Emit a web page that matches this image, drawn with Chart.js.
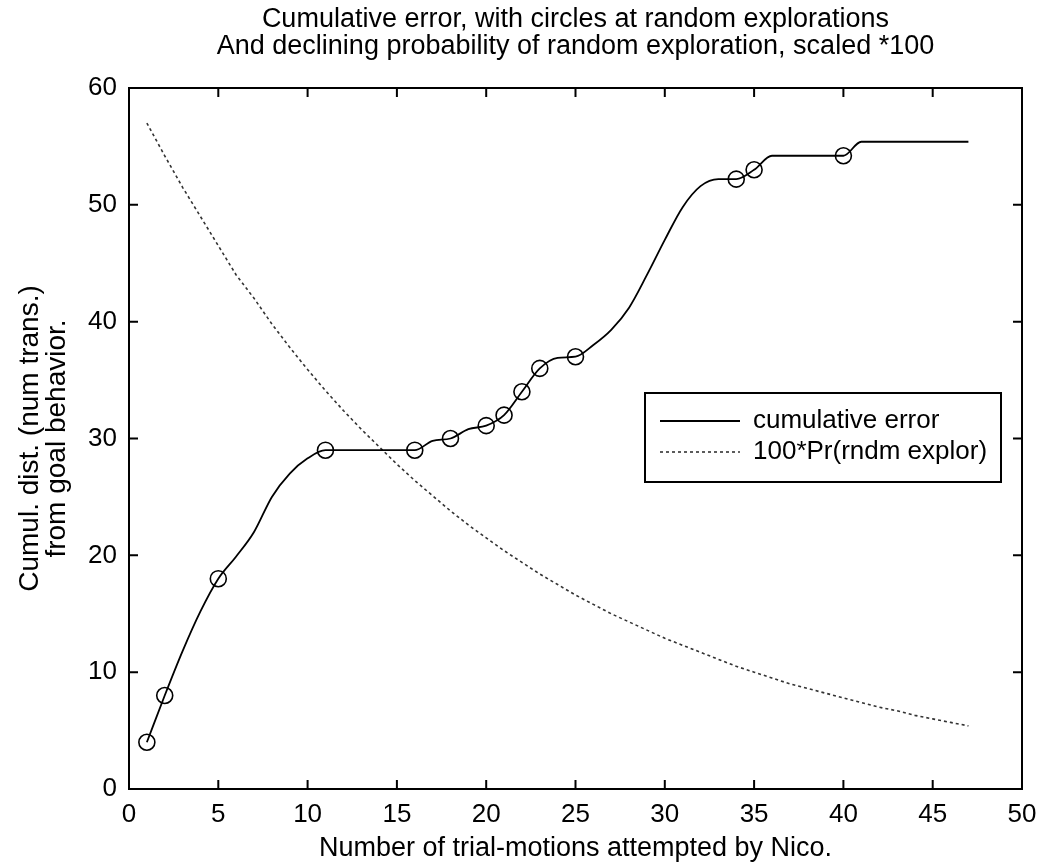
<!DOCTYPE html>
<html lang="en">
<head>
  <meta charset="UTF-8" />
  <title>Cumulative error with random explorations</title>
  <script src="https://cdn.jsdelivr.net/npm/chart.js"></script>
  <style>
    body {
      margin: 0;
      background: #ffffff;
    }
    .chart-box {
      width: 1039px;
      height: 863px;
    }
  </style>
</head>
<body>
  <div class="chart-box">
    <canvas id="errChart"></canvas>
  </div>

  <script>
    const trials = [1, 2, 3, 4, 5, 6, 7, 8, 9, 10, 11, 12, 13, 14, 15, 16, 17, 18, 19, 20,
      21, 22, 23, 24, 25, 26, 27, 28, 29, 30, 31, 32, 33, 34, 35, 36, 37, 38, 39, 40,
      41, 42, 43, 44, 45, 46, 47];
    const cumError = [4, 8, 11.8, 15.2, 18, 19.9, 22, 25, 27, 28.3, 29, 29, 29, 29, 29, 29, 29.8, 30, 30.8, 31.1,
      32, 34, 36, 36.9, 37, 38, 39.3, 41.2, 44, 47, 49.8, 51.6, 52.2, 52.2, 53, 54.2, 54.2, 54.2, 54.2, 54.2,
      55.4, 55.4, 55.4, 55.4, 55.4, 55.4, 55.4];
    const explorePr = [57, 54.2, 51.5, 49, 46.5, 44, 42, 39.8, 37.8, 35.9, 34.1, 32.4, 30.8, 29.3, 27.8, 26.4, 25.1, 23.8, 22.6, 21.5,
      20.4, 19.4, 18.4, 17.5, 16.6, 15.8, 15, 14.3, 13.6, 12.9, 12.3, 11.7, 11.1, 10.5, 10, 9.5, 9, 8.6, 8.2, 7.8,
      7.4, 7, 6.7, 6.3, 6, 5.7, 5.4];
    const explorations = [1, 2, 5, 11, 16, 18, 20, 21, 22, 23, 25, 34, 35, 40];
    const xTicks = [0, 5, 10, 15, 20, 25, 30, 35, 40, 45, 50];
    const yTicks = [0, 10, 20, 30, 40, 50, 60];
    const legendLabels = ["cumulative error", "100*Pr(rndm explor)"];

    const FONT = "'Liberation Sans', Arial, Helvetica, sans-serif";

    // matlab style box: frame, inward ticks on all four sides, legend inside the axes
    const matlabBox = {
      id: "matlabBox",
      afterDraw(chart) {
        const { ctx, chartArea: a, scales: { x, y } } = chart;
        ctx.save();
        ctx.strokeStyle = "#000";
        ctx.lineWidth = 2;
        ctx.strokeRect(a.left, a.top, a.right - a.left, a.bottom - a.top);

        ctx.beginPath();
        xTicks.forEach(v => {
          const px = x.getPixelForValue(v);
          ctx.moveTo(px, a.bottom); ctx.lineTo(px, a.bottom - 9);
          ctx.moveTo(px, a.top); ctx.lineTo(px, a.top + 9);
        });
        yTicks.forEach(v => {
          const py = y.getPixelForValue(v);
          ctx.moveTo(a.left, py); ctx.lineTo(a.left + 9, py);
          ctx.moveTo(a.right, py); ctx.lineTo(a.right - 9, py);
        });
        ctx.stroke();

        // legend
        const bx = a.right - 377, by = a.top + 305, bw = 356, bh = 89;
        ctx.fillStyle = "#fff";
        ctx.fillRect(bx, by, bw, bh);
        ctx.lineWidth = 2;
        ctx.strokeRect(bx, by, bw, bh);

        ctx.font = "26px " + FONT;
        ctx.textBaseline = "middle";
        ctx.fillStyle = "#000";
        const rows = [by + 28, by + 59];
        chart.data.datasets.forEach((ds, i) => {
          ctx.beginPath();
          ctx.strokeStyle = ds.borderColor;
          ctx.lineWidth = ds.borderWidth;
          ctx.setLineDash(ds.borderDash || []);
          ctx.moveTo(bx + 15, rows[i]);
          ctx.lineTo(bx + 95, rows[i]);
          ctx.stroke();
          ctx.setLineDash([]);
          ctx.fillText(legendLabels[i], bx + 108, rows[i]);
        });
        ctx.restore();
      }
    };

    new Chart(document.getElementById("errChart"), {
      type: "line",
      data: {
        datasets: [
          {
            label: legendLabels[0],
            data: trials.map((t, i) => ({ x: t, y: cumError[i] })),
            borderColor: "#000",
            borderWidth: 1.8,
            cubicInterpolationMode: "monotone",
            pointRadius: trials.map(t => explorations.includes(t) ? 8 : 0),
            pointBorderColor: "#000",
            pointBackgroundColor: "rgba(0,0,0,0)",
            pointBorderWidth: 1.6,
            pointHoverRadius: 0
          },
          {
            label: legendLabels[1],
            data: trials.map((t, i) => ({ x: t, y: explorePr[i] })),
            borderColor: "#333",
            borderWidth: 1.6,
            borderDash: [3, 3],
            pointRadius: 0,
            tension: 0
          }
        ]
      },
      options: {
        responsive: true,
        maintainAspectRatio: false,
        animation: false,
        devicePixelRatio: 1,
        layout: { padding: { left: 0, right: 17, top: 0, bottom: 0 } },
        plugins: {
          legend: { display: false },
          tooltip: { enabled: false },
          title: {
            display: true,
            fullSize: false,
            text: ["Cumulative error, with circles at random explorations",
                   "And declining probability of random exploration, scaled *100"],
            color: "#000",
            font: { family: FONT, size: 27, weight: "normal", lineHeight: 1.0 },
            padding: { top: 6.5, bottom: 27.5 }
          }
        },
        scales: {
          x: {
            type: "linear",
            min: 0,
            max: 50,
            afterFit: s => { s.height = 74; s.paddingLeft = 0; s.paddingRight = 0; },
            afterBuildTicks: s => { s.ticks = xTicks.map(v => ({ value: v })); },
            grid: { display: false, drawTicks: false },
            border: { display: false },
            ticks: {
              color: "#000",
              padding: 10,
              maxRotation: 0,
              font: { family: FONT, size: 26 }
            },
            title: {
              display: true,
              text: "Number of trial-motions attempted by Nico.",
              color: "#000",
              font: { family: FONT, size: 27, lineHeight: 1.05 },
              padding: { top: 0, bottom: 0 }
            }
          },
          y: {
            min: 0,
            max: 60,
            afterFit: s => { s.width = 129; },
            afterBuildTicks: s => { s.ticks = yTicks.map(v => ({ value: v })); },
            grid: { display: false, drawTicks: false },
            border: { display: false },
            ticks: {
              color: "#000",
              padding: 12,
              font: { family: FONT, size: 26 }
            },
            title: {
              display: true,
              text: ["Cumul. dist. (num trans.)", "from goal behavior."],
              color: "#000",
              font: { family: FONT, size: 28, lineHeight: 0.97 },
              padding: { top: 16.5, bottom: 0 }
            }
          }
        }
      },
      plugins: [matlabBox]
    });
  </script>
</body>
</html>
